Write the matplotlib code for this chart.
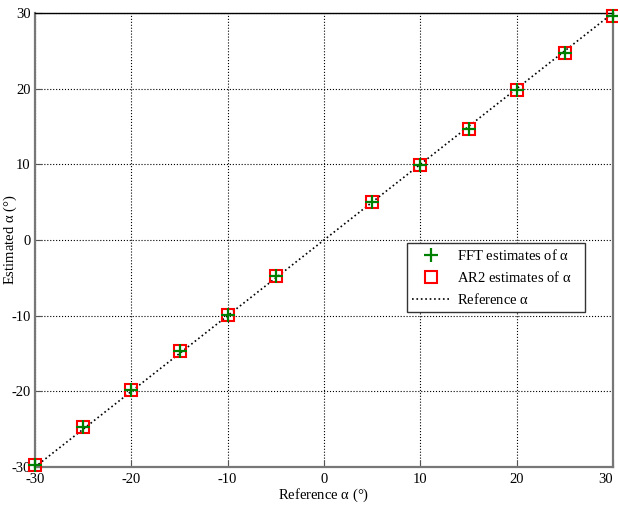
import matplotlib
matplotlib.use('Agg')
import matplotlib.pyplot as plt
import numpy as np

plt.rcParams['font.family'] = ['Liberation Serif', 'DejaVu Serif']
plt.rcParams['font.size'] = 10.5
plt.rcParams['axes.unicode_minus'] = False
plt.rcParams['mathtext.fontset'] = 'custom'
plt.rcParams['mathtext.rm'] = 'Liberation Serif'
plt.rcParams['mathtext.it'] = 'Liberation Serif'

# reference angles and estimates (deg)
ref_alpha = [-30, -25, -20, -15, -10, -5, 5, 10, 15, 20, 25, 30]
fft_est = [-29.7, -24.7, -19.8, -14.7, -9.9, -4.8, 5.0, 9.9, 14.7, 19.8, 24.7, 29.6]
ar2_est = [-29.7, -24.7, -19.8, -14.7, -9.9, -4.8, 5.0, 9.9, 14.7, 19.8, 24.7, 29.6]
line_x = [-30, 30]
ticks = [-30, -20, -10, 0, 10, 20, 30]

fig = plt.figure(figsize=(6.18, 5.09), dpi=100)
ax = fig.add_axes([35/618, 42/509, 578/618, 454/509])

ax.plot(ref_alpha, fft_est, '+', color='green', ms=10, mew=1.6,
        label=r'FFT estimates of $\alpha$', zorder=4, clip_on=False)
ax.plot(ref_alpha, ar2_est, 's', mfc='none', mec='red', ms=9, mew=1.5,
        label=r'AR2 estimates of $\alpha$', zorder=3, clip_on=False)
ax.plot(line_x, line_x, ':', color='black', lw=1.2, label=r'Reference $\alpha$', zorder=2)

ax.set_xlim(-30, 30)
ax.set_ylim(-30, 30)
ax.set_xticks(ticks)
ax.set_yticks(ticks)
ax.grid(True, linestyle=':', color='black', lw=0.8)
ax.tick_params(direction='in', length=5, colors='#555555', labelcolor='black')
ax.tick_params(axis='x', pad=4)
ax.tick_params(axis='y', pad=3)
ax.get_xticklabels()[-1].set_ha('right')
for s in ['left', 'bottom', 'right']:
    ax.spines[s].set_color('#777777')
    ax.spines[s].set_linewidth(1.6)
ax.spines['top'].set_color('black')
ax.spines['top'].set_linewidth(1.0)

ax.set_xlabel(r'Reference $\alpha$ (°)')
ax.set_ylabel(r'Estimated $\alpha$ (°)')
ax.xaxis.set_label_coords(0.5, -0.043)
ax.yaxis.set_label_coords(-0.027, 0.5)

leg = ax.legend(loc='lower left', bbox_to_anchor=(0.644, 0.342, 0.308, 0.141),
                mode='expand', fancybox=False, edgecolor='#333333', framealpha=1,
                handlelength=2.6, handletextpad=0.5, borderaxespad=0,
                labelspacing=0.5, borderpad=0.3)
leg.get_frame().set_linewidth(1.0)

fig.savefig('out.png', dpi=100)
